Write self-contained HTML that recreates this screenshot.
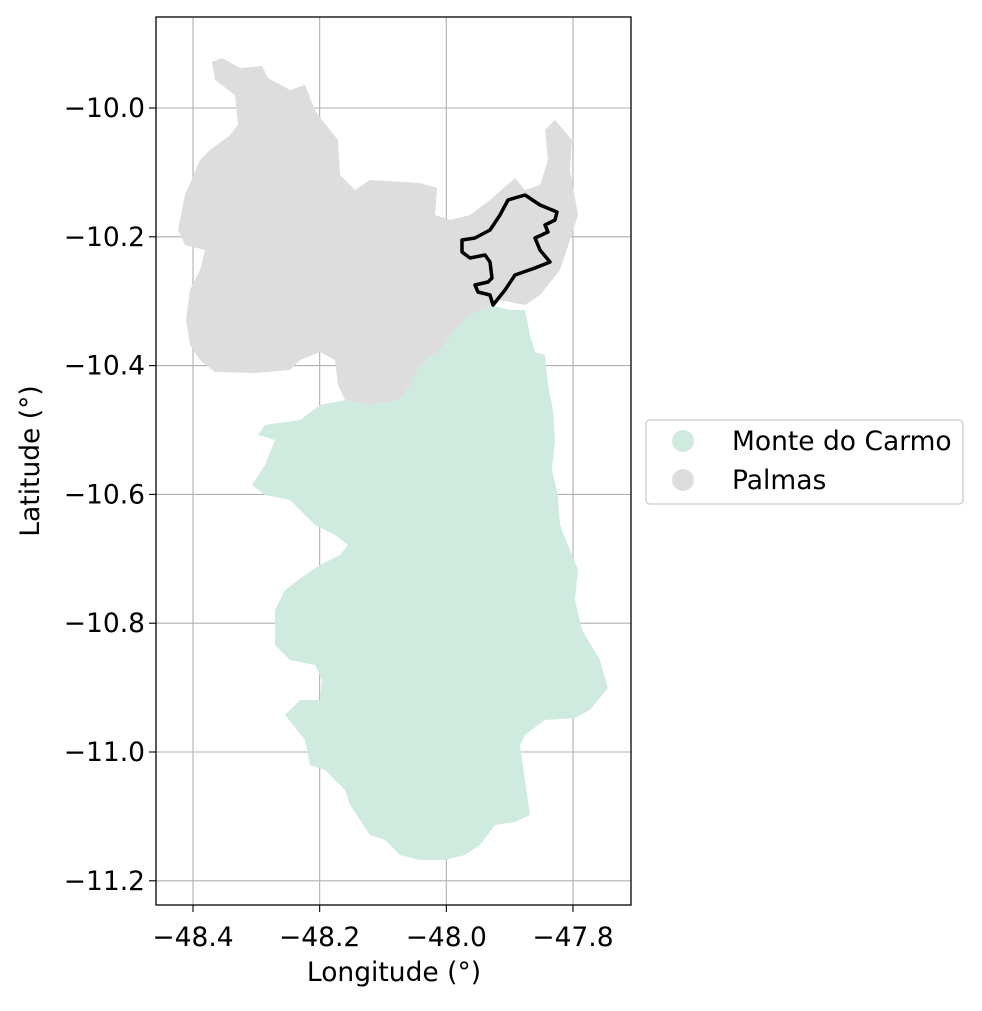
<!DOCTYPE html>
<html><head><meta charset="utf-8"><style>
body{margin:0;background:#fff}
svg{font-family:"DejaVu Sans","Liberation Sans",sans-serif}
</style></head><body>
<svg id="chart" width="982" height="1006" xmlns="http://www.w3.org/2000/svg">
<rect width="982" height="1006" fill="#fff"/>
<g id="grid"></g>
<g id="shapes"></g>
<rect x="156" y="17" width="475" height="888" fill="none" stroke="#000" stroke-width="1.3"/>
<g id="ticks"></g>
<text x="394" y="981" font-size="26.5" text-anchor="middle">Longitude (°)</text>
<text transform="translate(39,461) rotate(-90)" font-size="26.5" text-anchor="middle">Latitude (°)</text>
<g>
<rect x="646" y="420" width="317" height="84" rx="4" fill="#fff" stroke="#ccc" stroke-width="1.3"/>
<circle cx="683" cy="441" r="11" fill="#cfebdf"/>
<text x="732" y="450" font-size="26.5">Monte do Carmo</text>
<circle cx="683" cy="480" r="11" fill="#dddddd"/>
<text x="732" y="489" font-size="26.5">Palmas</text>
</g>
</svg>
<script>
const xTicks=[-48.4,-48.2,-48.0,-47.8];
const yTicks=[-10.0,-10.2,-10.4,-10.6,-10.8,-11.0,-11.2];
const palmasPx=[[212,62],[222,58],[240,68],[262,66],[268,78],[290,90],[305,85],[315,110],[322,120],[338,140],[340,175],[355,190],[370,180],[420,183],[437,188],[435,215],[450,220],[470,215],[490,200],[515,178],[525,190],[540,185],[548,160],[545,130],[555,120],[572,140],[570,170],[578,215],[570,240],[560,270],[540,295],[525,305],[500,300],[470,315],[455,330],[440,350],[420,365],[410,385],[400,400],[370,405],[345,400],[338,385],[335,360],[320,352],[300,360],[290,370],[255,373],[215,372],[200,360],[190,345],[186,320],[190,290],[200,270],[205,250],[185,245],[178,230],[185,195],[200,160],[210,150],[230,135],[238,125],[235,95],[215,80]];
const montePx=[[490,305],[510,310],[525,310],[530,335],[535,352],[545,355],[548,385],[553,410],[555,440],[552,470],[558,495],[560,525],[572,555],[578,570],[575,600],[582,630],[600,660],[608,688],[598,700],[590,710],[575,718],[545,720],[525,735],[520,745],[530,815],[515,822],[495,825],[480,845],[465,855],[445,860],[420,860],[400,855],[385,840],[370,835],[350,805],[345,790],[325,770],[310,765],[305,740],[285,715],[300,700],[320,700],[322,680],[315,665],[290,660],[275,645],[275,610],[285,590],[305,575],[320,565],[340,555],[348,545],[335,535],[315,525],[300,510],[290,500],[265,495],[252,485],[265,465],[275,440],[258,435],[265,425],[300,420],[320,405],[345,400],[370,405],[400,400],[410,385],[420,365],[440,350],[455,330],[470,315]];
const outlinePx=[[508,200],[525,195],[540,205],[557,212],[555,220],[545,225],[548,232],[535,238],[540,250],[550,262],[535,268],[515,275],[505,290],[493,305],[490,295],[478,292],[475,285],[488,282],[492,278],[490,262],[485,255],[470,258],[462,252],[462,240],[475,238],[490,230],[500,215]];
const toLon=p=>-48.4+(p-193)/633.3, toLat=p=>-10.0-(p-108)/644;
const palmas=palmasPx.map(p=>[toLon(p[0]),toLat(p[1])]);
const monte=montePx.map(p=>[toLon(p[0]),toLat(p[1])]);
const outline=outlinePx.map(p=>[toLon(p[0]),toLat(p[1])]);
const X=v=>193+(v+48.4)*633.3, Y=v=>108-(v+10.0)*644;
const NS="http://www.w3.org/2000/svg";
function mk(t,a,parent){const e=document.createElementNS(NS,t);for(const k in a)e.setAttribute(k,a[k]);document.getElementById(parent).appendChild(e);return e;}
const grid="grid",tk="ticks";
xTicks.forEach(v=>{
 const l=mk("line",{x1:X(v),x2:X(v),y1:17,y2:905,stroke:"#b0b0b0","stroke-width":1.1},grid);
 
 
 const t=mk("line",{x1:X(v),x2:X(v),y1:905,y2:912,stroke:"#000","stroke-width":1.1},tk);
 
 
 const s=mk("text",{x:X(v),y:946,"font-size":26.5,"text-anchor":"middle"},tk);
 s.textContent="\u2212"+Math.abs(v).toFixed(1);
 
 
});
yTicks.forEach(v=>{
 const l=mk("line",{x1:156,x2:631,y1:Y(v),y2:Y(v),stroke:"#b0b0b0","stroke-width":1.1},grid);
 
 
 const t=mk("line",{x1:149,x2:156,y1:Y(v),y2:Y(v),stroke:"#000","stroke-width":1.1},tk);
 
 
 const s=mk("text",{x:145,y:Y(v)+9,"font-size":26.5,"text-anchor":"end"},tk);
 s.textContent="\u2212"+Math.abs(v).toFixed(1);
 
 
});
const pts=a=>a.map(p=>X(p[0]).toFixed(1)+","+Y(p[1]).toFixed(1)).join(" ");
const pg=mk("polygon",{points:pts(palmas),fill:"#dddddd"},"shapes");


const mg=mk("polygon",{points:pts(monte),fill:"#cfebdf"},"shapes");


const ol=mk("polygon",{points:pts(outline),fill:"none",stroke:"#000","stroke-width":3.5,"stroke-linejoin":"round"},"shapes");


</script>
</body></html>
